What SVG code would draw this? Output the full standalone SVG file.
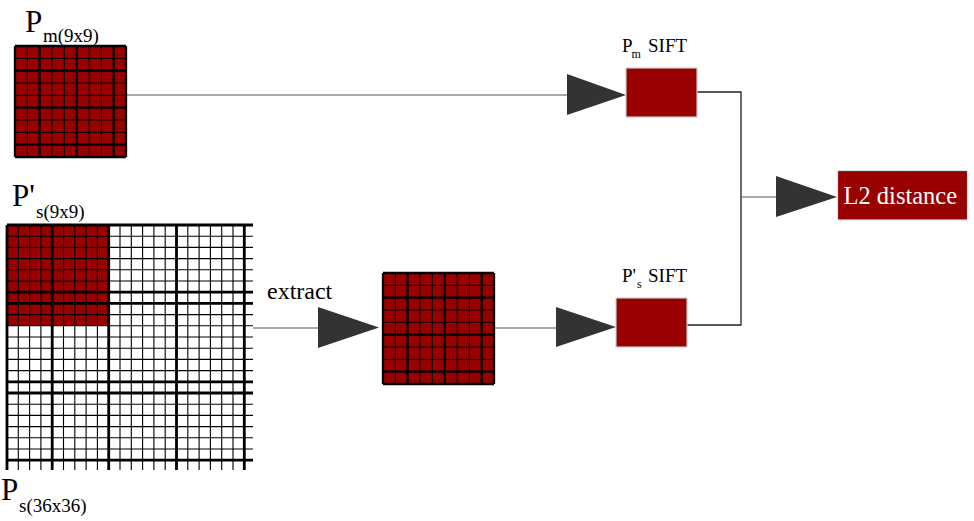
<svg xmlns="http://www.w3.org/2000/svg" xmlns:xlink="http://www.w3.org/1999/xlink" width="974" height="521" viewBox="0 0 974 521">
<style>
.lbl{font-family:"Liberation Serif","Times New Roman",serif;fill:#000}
.thin{stroke:#000;stroke-width:1.1;fill:none}
.thick{stroke:#000;stroke-width:2.8;fill:none}
.thin9{stroke:#000;stroke-width:1;fill:none}
.thick9{stroke:#000;stroke-width:2.3;fill:none}
.conn{stroke:#555;stroke-width:1.2;fill:none}
.head{fill:#333}
.box{fill:#990000;stroke:#ccc;stroke-width:1.2}
</style>
<defs>
<g id="grid9">
<rect x="0" y="0" width="111" height="111" fill="#990000"/>
<path class="thin9" d="M12.33 0V111M37 0V111M49.33 0V111M74 0V111M86.33 0V111M0 12.33H111M0 37H111M0 49.33H111M0 74H111M0 86.33H111"/>
<path class="thick9" d="M0 0V111M24.67 0V111M61.67 0V111M98.67 0V111M111 0V111M0 0H111M0 24.67H111M0 61.67H111M0 98.67H111M0 111H111"/>
</g>
</defs>

<g id="connectors">
<path class="conn" d="M126 95H567"/>
<polygon class="head" points="567,74 626,95 567,115"/>
<path class="conn" d="M253 328H318"/>
<polygon class="head" points="318,307 379,327.5 318,348"/>
<path class="conn" d="M494 328H556"/>
<polygon class="head" points="556,307 616,327 556,347"/>
<path d="M697 92H741V325H687" stroke="#222" stroke-width="1.3" fill="none"/>
<path class="conn" d="M741 197H776"/>
<polygon class="head" points="776,176 837,197 776,217"/>
</g>

<g id="pm">
<use xlink:href="#grid9" href="#grid9" x="15" y="46"/>
<text class="lbl" x="25" y="32" font-size="31">P</text>
<text class="lbl" x="43" y="42" font-size="19">m(9x9)</text>
</g>

<g id="ps">
<rect x="7" y="225" width="101.7" height="100.8" fill="#990000"/>
<path class="thin" d="M7 225V470M18.3 225V470M29.6 225V470M40.9 225V470M52.2 225V470M63.5 225V470M74.8 225V470M86.1 225V470M97.4 225V470M108.7 225V470M120 225V470M131.3 225V470M142.6 225V470M153.9 225V470M165.2 225V470M176.5 225V470M187.8 225V470M199.1 225V470M210.4 225V470M221.7 225V470M233 225V470M244.3 225V470M7 225H253M7 236.2H253M7 247.4H253M7 258.6H253M7 269.8H253M7 281H253M7 292.2H253M7 303.4H253M7 314.6H253M7 325.8H253M7 337H253M7 348.2H253M7 359.4H253M7 370.6H253M7 381.8H253M7 393H253M7 404.2H253M7 415.4H253M7 426.6H253M7 437.8H253M7 449H253M7 460.2H253"/>
<path class="thick" d="M7 225V470M52.2 225V470M108.7 225V470M176.5 225V470M244.3 225V470M7 225H253M7 292.2H253M7 303.4H253M7 381.8H253M7 393H253M7 460.2H253"/>
<text class="lbl" x="12" y="206" font-size="31">P'</text>
<text class="lbl" x="36" y="217.5" font-size="19">s(9x9)</text>
<text class="lbl" x="1" y="500" font-size="31">P</text>
<text class="lbl" x="19" y="511.5" font-size="19">s(36x36)</text>
</g>

<g id="extract-label">
<text class="lbl" x="267" y="298.5" font-size="24">extract</text>
</g>

<g id="ps9">
<use xlink:href="#grid9" href="#grid9" x="383" y="273"/>
</g>

<g id="pm-sift">
<rect class="box" x="626" y="68" width="71" height="49"/>
<text class="lbl" x="622" y="51.7" font-size="19">P</text>
<text class="lbl" x="631.5" y="58.3" font-size="12">m</text>
<text class="lbl" x="648" y="51.7" font-size="19">SIFT</text>
</g>

<g id="ps-sift">
<rect class="box" x="616" y="298" width="71" height="49"/>
<text class="lbl" x="622" y="281.7" font-size="19">P'</text>
<text class="lbl" x="637" y="288.3" font-size="12">s</text>
<text class="lbl" x="648" y="281.7" font-size="19">SIFT</text>
</g>

<g id="l2">
<rect x="837.5" y="170.5" width="130" height="49.5" fill="#990000" stroke="#d0e8e8" stroke-width="1.2"/>
<text x="843.5" y="204" font-size="24.5" font-family="Liberation Serif, Times New Roman, serif" fill="#fff">L2 distance</text>
</g>
</svg>
